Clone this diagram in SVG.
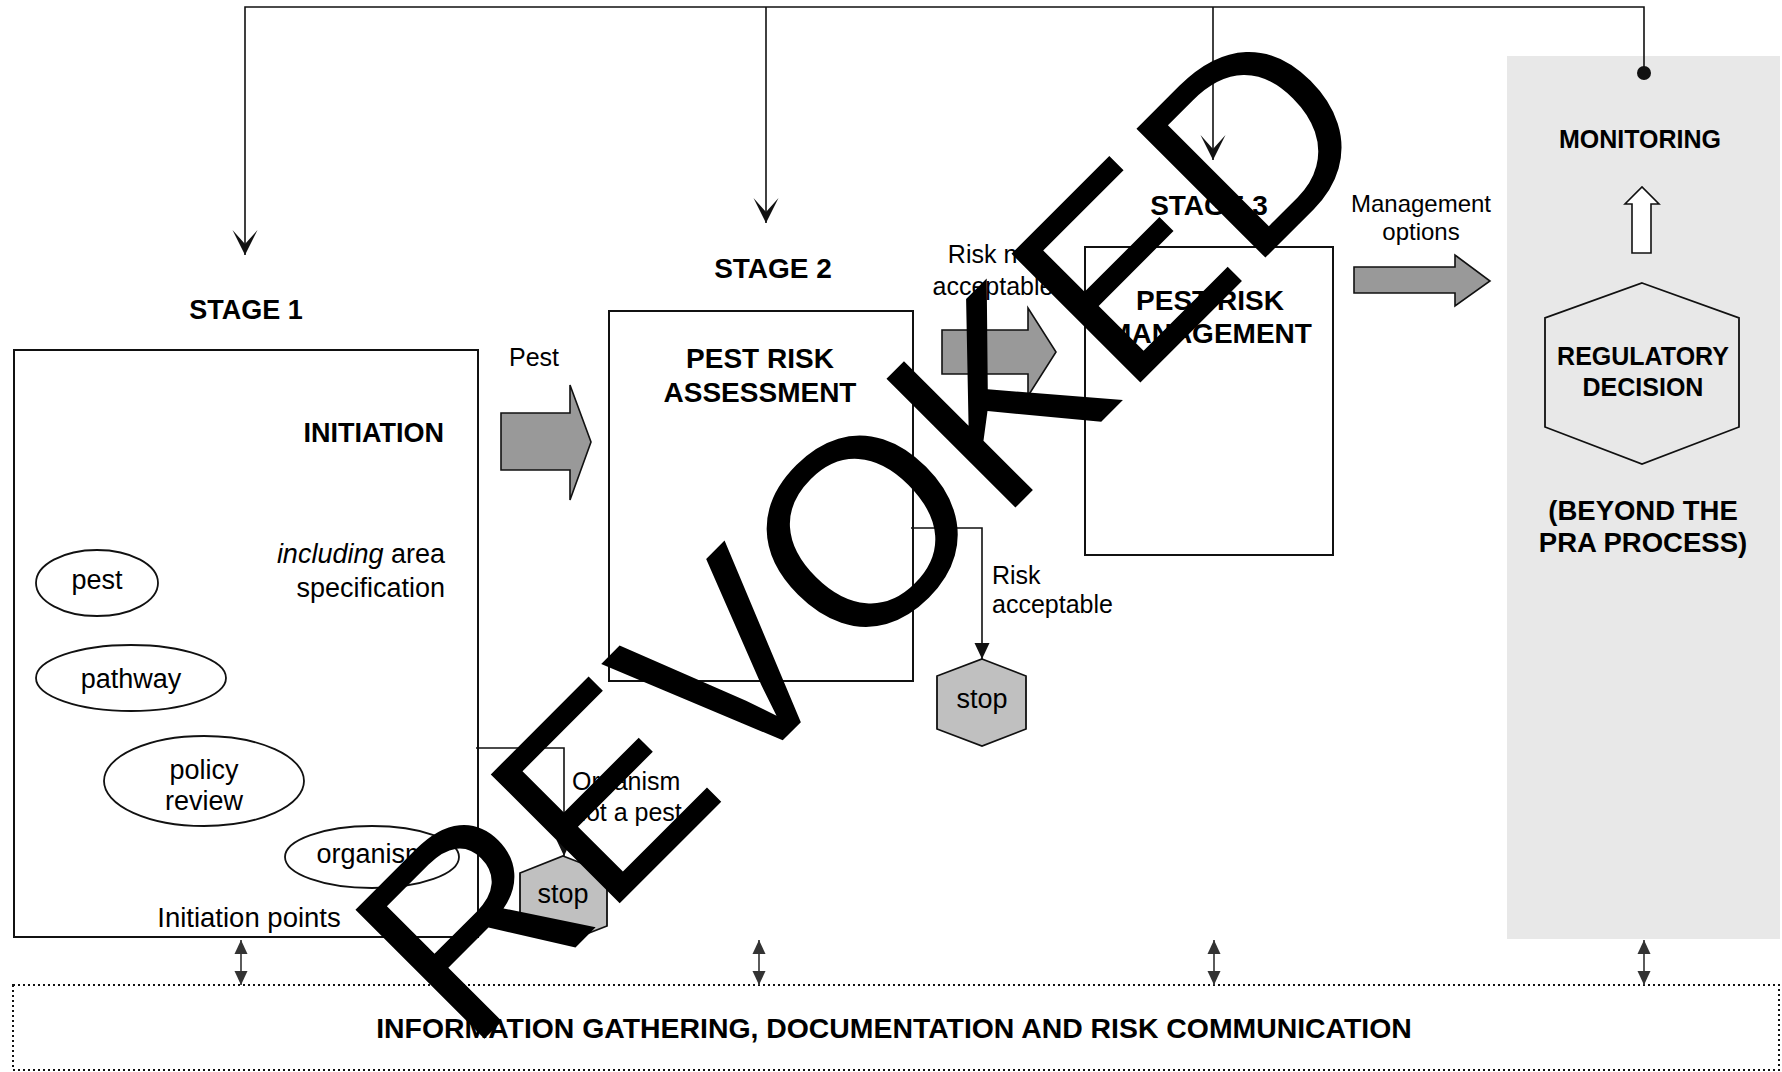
<svg xmlns="http://www.w3.org/2000/svg" width="1782" height="1072" viewBox="0 0 1782 1072">
<defs>
<style>
text{font-family:"Liberation Sans",Arial,sans-serif;fill:#000}
.b{font-weight:bold}
.r27{font-size:27px}
.r25{font-size:25px}
.box{fill:#fff;stroke:#111;stroke-width:2}
.ell{fill:#fff;stroke:#111;stroke-width:1.8}
.ln{fill:none;stroke:#111;stroke-width:1.6}
.blk{fill:#999;stroke:#111;stroke-width:1.6}
.stop{fill:#c0c0c0;stroke:#111;stroke-width:1.8}
.dbl{fill:none;stroke:#333;stroke-width:1.6}
</style>
<marker id="stealth" markerUnits="userSpaceOnUse" viewBox="-26 -14 28 28" refX="0" refY="0" markerWidth="28" markerHeight="28" orient="auto">
<path d="M0,0 L-25,-12.5 L-11,0 L-25,12.5 Z" fill="#111"/>
</marker>
<marker id="tri" markerUnits="userSpaceOnUse" viewBox="-17 -9 18 18" refX="0" refY="0" markerWidth="18" markerHeight="18" orient="auto">
<path d="M0,0 L-16,-7.5 L-16,7.5 Z" fill="#111"/>
</marker>
<marker id="sm" markerUnits="userSpaceOnUse" viewBox="-15 -8 16 16" refX="0" refY="0" markerWidth="16" markerHeight="16" orient="auto-start-reverse">
<path d="M0,0 L-14,-6.5 L-14,6.5 Z" fill="#333"/>
</marker>
</defs>
<rect width="1782" height="1072" fill="#fff"/>

<g id="monitoring-panel">
<rect x="1507" y="56" width="273" height="883" fill="#e8e8e8"/>
<text class="b" x="1640" y="148" font-size="25" text-anchor="middle">MONITORING</text>
</g>

<g id="stage1">
<text class="b" x="246" y="319" font-size="27" text-anchor="middle">STAGE 1</text>
<rect class="box" x="14" y="350" width="464" height="587"/>
<text class="b" x="444" y="442" font-size="27" text-anchor="end">INITIATION</text>
<text class="r27" x="445" y="563" text-anchor="end"><tspan font-style="italic">including</tspan> area</text>
<text class="r27" x="445" y="597" text-anchor="end">specification</text>
<text x="249" y="927" font-size="27.5" text-anchor="middle">Initiation points</text>
</g>
<g id="ell-pest"><ellipse class="ell" cx="97" cy="583" rx="61" ry="33"/><text class="r27" x="97" y="589" text-anchor="middle">pest</text></g>
<g id="ell-pathway"><ellipse class="ell" cx="131" cy="678" rx="95" ry="33"/><text class="r27" x="131" y="688" text-anchor="middle">pathway</text></g>
<g id="ell-policy"><ellipse class="ell" cx="204" cy="781" rx="100" ry="45"/><text class="r27" x="204" y="779" text-anchor="middle">policy</text><text class="r27" x="204" y="810" text-anchor="middle">review</text></g>
<g id="ell-organism"><ellipse class="ell" cx="372" cy="857" rx="87" ry="31"/><text class="r27" x="372" y="863" text-anchor="middle">organism</text></g>

<g id="stage2">
<text class="b" x="773" y="278" font-size="28" text-anchor="middle">STAGE 2</text>
<rect class="box" x="609" y="311" width="304" height="370"/>
<text class="b" x="760" y="368" font-size="28" text-anchor="middle">PEST RISK</text>
<text class="b" x="760" y="402" font-size="28" text-anchor="middle">ASSESSMENT</text>
</g>

<g id="stage3">
<text class="b" x="1209" y="215" font-size="28" text-anchor="middle">STAGE 3</text>
<rect class="box" x="1085" y="247" width="248" height="308"/>
<text class="b" x="1210" y="310" font-size="28" text-anchor="middle">PEST RISK</text>
<text class="b" x="1210" y="343" font-size="28" text-anchor="middle">MANAGEMENT</text>
</g>

<g id="regulatory-decision">
<polygon points="1642,283 1739,318 1739,427 1642,464 1545,427 1545,318" fill="#e8e8e8" stroke="#111" stroke-width="1.8"/>
<text class="b" x="1643" y="365" font-size="25" text-anchor="middle">REGULATORY</text>
<text class="b" x="1643" y="396" font-size="25" text-anchor="middle">DECISION</text>
<text class="b" x="1643" y="520" font-size="27.5" text-anchor="middle">(BEYOND THE</text>
<text class="b" x="1643" y="552" font-size="27.5" text-anchor="middle">PRA PROCESS)</text>
</g>

<g id="stop1">
<polygon class="stop" points="982,659 1026,676 1026,729 982,746 937,729 937,676"/>
<text class="r27" x="982" y="708" text-anchor="middle">stop</text>
</g>
<g id="stop2">
<polygon class="stop" points="563,856 607,873 607,926 563,943 520,926 520,873"/>
<text class="r27" x="563" y="903" text-anchor="middle">stop</text>
</g>

<g id="info-box">
<rect x="13" y="985" width="1766" height="85" fill="none" stroke="#111" stroke-width="2" stroke-dasharray="2 3"/>
<text class="b" x="894" y="1038" font-size="28.4" text-anchor="middle">INFORMATION GATHERING, DOCUMENTATION AND RISK COMMUNICATION</text>
</g>

<g id="connectors">
<polyline class="ln" points="1644,73 1644,7 245,7 245,255" marker-end="url(#stealth)"/>
<line class="ln" x1="766" y1="7" x2="766" y2="223" marker-end="url(#stealth)"/>
<line class="ln" x1="1213" y1="7" x2="1213" y2="160" marker-end="url(#stealth)"/>
<circle cx="1644" cy="73" r="7" fill="#111"/>

<polygon class="blk" points="501,413 570,413 570,385 591,442 570,500 570,470 501,470"/>
<text class="r25" x="509" y="366">Pest</text>

<polygon class="blk" points="942,330 1028,330 1028,308 1056,352 1028,396 1028,374 942,374"/>
<text class="r25" x="993" y="263" text-anchor="middle">Risk not</text>
<text class="r25" x="993" y="295" text-anchor="middle">acceptable</text>

<polygon class="blk" points="1354,267 1455,267 1455,255 1490,281 1455,306 1455,293 1354,293"/>
<text x="1421" y="212" font-size="24" text-anchor="middle">Management</text>
<text x="1421" y="240" font-size="24" text-anchor="middle">options</text>

<polygon points="1632,253 1632,204 1625,204 1642,187 1659,204 1651,204 1651,253" fill="#fff" stroke="#111" stroke-width="1.6"/>

<polyline class="ln" points="911,528 982,528 982,659" marker-end="url(#tri)"/>
<text class="r25" x="992" y="584">Risk</text>
<text class="r25" x="992" y="613">acceptable</text>

<polyline class="ln" points="476,748 564,748 564,856" marker-end="url(#tri)"/>
<text class="r25" x="572" y="790">Organism</text>
<text class="r25" x="572" y="821">not a pest</text>

<line class="dbl" x1="241" y1="940" x2="241" y2="985" marker-start="url(#sm)" marker-end="url(#sm)"/>
<line class="dbl" x1="759" y1="940" x2="759" y2="985" marker-start="url(#sm)" marker-end="url(#sm)"/>
<line class="dbl" x1="1214" y1="940" x2="1214" y2="985" marker-start="url(#sm)" marker-end="url(#sm)"/>
<line class="dbl" x1="1644" y1="940" x2="1644" y2="985" marker-start="url(#sm)" marker-end="url(#sm)"/>
</g>

<g id="watermark">
<text x="0" y="0" transform="translate(469,1054) rotate(-45)" font-size="265">REVOKED</text>
</g>
</svg>
